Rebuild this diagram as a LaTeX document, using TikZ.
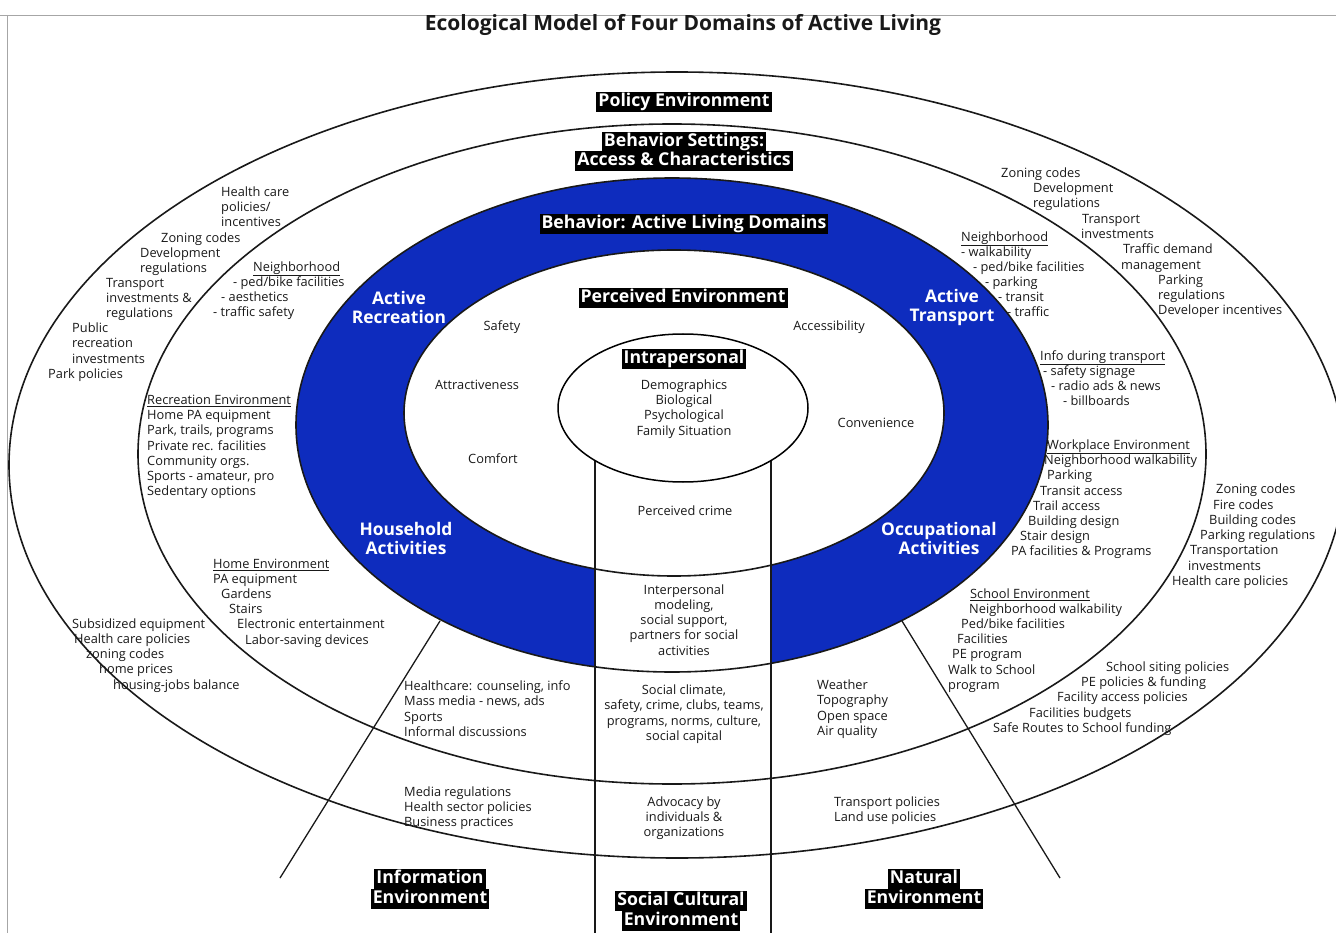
\documentclass[tikz,border=0pt]{standalone}
\usepackage{fontspec}
\setmainfont{Open Sans}
\usetikzlibrary{shapes.geometric}
\definecolor{ringblue}{RGB}{14,44,190}
\begin{document}
\begin{tikzpicture}[x=1pt, y=-1pt,
	ring/.style={line width=1.6pt, black!90},
	col/.style={line width=1.3pt, black!90},
	tag/.style={fill=black, text=white, inner xsep=2pt, inner ysep=1.5pt, text height=13pt, text depth=3.5pt, font=\bfseries\fontsize{17.7}{19}\selectfont},
	dom/.style={text=white, align=center, font=\bfseries\fontsize{17.4}{19}\selectfont},
	txt/.style={inner sep=0pt, text=black!90, text height=9pt, text depth=2.6pt, font=\fontsize{12.8}{15}\selectfont}]
	\useasboundingbox (0,0) rectangle (1336,933);
	\coordinate (bot) at (0,933);
	%frame
	\draw[gray!70, line width=.8pt] (0,15) -- (1336,15);
	\draw[gray!70, line width=.8pt] (7,15) -- (7,933);
	%rings
	\fill[ringblue, even odd rule] (672,425) ellipse [x radius=376, y radius=247]
		(674,413) ellipse [x radius=270, y radius=163];
	\node[ellipse, minimum width=250pt, minimum height=148pt, inner sep=0pt] (intra) at (683,408) {};
	\fill[white] (intra.211) rectangle (intra.329 |- bot);
	\draw[ring] (677,465) ellipse [x radius=668, y radius=393];
	\draw[ring] (672,454) ellipse [x radius=534, y radius=330];
	\draw[ring] (672,425) ellipse [x radius=376, y radius=247];
	\draw[ring] (674,413) ellipse [x radius=270, y radius=163];
	%sectors
	\coordinate (infoA) at (440,621);
	\coordinate (infoB) at (280,878);
	\coordinate (natA) at (902,621);
	\coordinate (natB) at (1060,878);
	\draw[col] (infoA) -- (infoB);
	\draw[col] (natA) -- (natB);
	\draw[col] (intra.211) -- (intra.211 |- bot);
	\draw[col] (intra.329) -- (intra.329 |- bot);
	\node[draw, ellipse, fill=white, line width=1.5pt, minimum width=250pt, minimum height=148pt, inner sep=0pt] at (intra) {};
	%title
	\node[font=\bfseries\fontsize{21}{23}\selectfont, text=black!90] (title) at (683,25) {Ecological Model of Four Domains of Active Living};
	%labels
	\node[tag] (pol) at (684,102) {Policy Environment};
	\node[tag] (set1) at (684,142) {Behavior Settings:};
	\node[tag] (set2) at (684,161) {Access \& Characteristics};
	\node[tag] (beh) at (684,224) {Behavior: Active Living Domains};
	\node[tag] (perc) at (683,298) {Perceived Environment};
	\node[tag] (intraL) at (684,359) {Intrapersonal};
	\node[tag] (info1) at (430,879) {Information};
	\node[tag] (info2) at (430,899) {Environment};
	\node[tag] (soc1) at (681,901) {Social Cultural};
	\node[tag] (soc2) at (681,921) {Environment};
	\node[tag] (nat1) at (924,879) {Natural};
	\node[tag] (nat2) at (924,899) {Environment};
	%domains
	\node[dom] (rec) at (399,307) {Active\\Recreation};
	\node[dom] (tra) at (952,307) {Active\\Transport};
	\node[dom] (hou) at (406,538) {Household\\Activities};
	\node[dom] (occ) at (939,538) {Occupational\\Activities};
	%perceived
	\foreach \x/\y/\t [count=\i] in {
		502/327/Safety,
		829/327/Accessibility,
		477/386/Attractiveness,
		876/424/Convenience,
		493/460/Comfort,
		685/512/Perceived crime
	}
	\node[txt] (pe\i) at (\x,\y) {\t};
	%column
	\foreach \y/\t [count=\i] in {
		386/Demographics,
		401/Biological,
		416/Psychological,
		432/Family Situation,
		591/Interpersonal,
		606/{modeling,},
		621/{social support,},
		636/partners for social,
		652/activities,
		691/{Social climate,},
		706/{safety, crime, clubs, teams,},
		722/{programs, norms, culture,},
		737/social capital,
		803/Advocacy by,
		818/individuals \&,
		833/organizations
	}
	\node[txt] (co\i) at (684,\y) {\t};
	%left side
	\foreach \x/\y/\t [count=\i] in {
		221/193/Health care,
		221/208/{policies/},
		221/223/incentives,
		161/239/Zoning codes,
		140/254/Development,
		140/269/regulations,
		106/284/Transport,
		106/299/investments \&,
		106/314/regulations,
		72/329/Public,
		72/344/recreation,
		72/360/investments,
		48/375/Park policies,
		253/268/\underline{Neighborhood},
		233/283/{- ped/bike facilities},
		221/298/- aesthetics,
		213/313/- traffic safety,
		147/401/\underline{Recreation Environment},
		147/416/Home PA equipment,
		147/431/{Park, trails, programs},
		147/447/Private rec. facilities,
		147/462/Community orgs.,
		147/477/Sports - amateur{,} pro,
		147/492/Sedentary options,
		213/565/\underline{Home Environment},
		213/580/PA equipment,
		221/595/Gardens,
		229/610/Stairs,
		237/625/Electronic entertainment,
		245/641/Labor-saving devices,
		72/625/Subsidized equipment,
		74/640/Health care policies,
		86/655/zoning codes,
		99/670/home prices,
		113/686/housing-jobs balance,
		404/687/{Healthcare: counseling, info},
		404/702/{Mass media - news, ads},
		404/718/Sports,
		404/733/Informal discussions,
		404/793/Media regulations,
		404/808/Health sector policies,
		404/823/Business practices
	}
	\node[txt, anchor=west] (lt\i) at (\x,\y) {\t};
	%right side
	\foreach \x/\y/\t [count=\i] in {
		1001/174/Zoning codes,
		1033/189/Development,
		1033/204/regulations,
		1082/220/Transport,
		1081/235/investments,
		1123/250/Traffic demand,
		1121/266/management,
		1158/281/Parking,
		1158/296/regulations,
		1158/311/Developer incentives,
		961/238/\underline{Neighborhood},
		961/253/- walkability,
		973/268/{- ped/bike facilities},
		985/283/- parking,
		998/298/- transit,
		1007/313/- traffic,
		1040/357/\underline{Info during transport},
		1043/372/- safety signage,
		1051/387/- radio ads \& news,
		1063/402/- billboards,
		1047/446/\underline{Workplace Environment},
		1044/461/Neighborhood walkability,
		1047/476/Parking,
		1040/492/Transit access,
		1033/507/Trail access,
		1028/522/Building design,
		1020/537/Stair design,
		1011/552/PA facilities \& Programs,
		1216/490/Zoning codes,
		1213/506/Fire codes,
		1209/521/Building codes,
		1200/536/Parking regulations,
		1190/551/Transportation,
		1188/567/investments,
		1172/582/Health care policies,
		970/595/\underline{School Environment},
		969/610/Neighborhood walkability,
		961/625/{Ped/bike facilities},
		957/640/Facilities,
		952/655/PE program,
		948/671/Walk to School,
		948/686/program,
		1106/668/School siting policies,
		1081/683/PE policies \& funding,
		1057/698/Facility access policies,
		1029/714/Facilities budgets,
		993/729/Safe Routes to School funding,
		817/686/Weather,
		817/701/Topography,
		817/717/Open space,
		817/732/Air quality,
		834/803/Transport policies,
		834/818/Land use policies
	}
	\node[txt, anchor=west] (rt\i) at (\x,\y) {\t};
\end{tikzpicture}
\end{document}
